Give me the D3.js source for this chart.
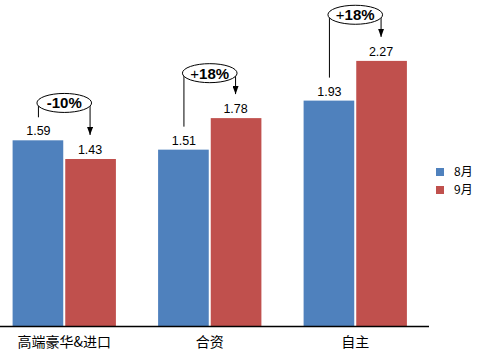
<!DOCTYPE html>
<html lang="zh">
<head>
  <meta charset="UTF-8">
  <title>8月 vs 9月</title>
  <style>
    body { margin: 0; background: #fff; }
    .chart { width: 481px; height: 361px; }
    text { font-family: "Liberation Sans", Arial, "Noto Sans CJK SC", sans-serif; }
    .cat { font-family: "Noto Sans CJK SC", "Liberation Sans", sans-serif; font-size: 14px; }
  </style>
  <script src="https://cdn.jsdelivr.net/npm/d3@7/dist/d3.min.js"></script>
</head>
<body>
  <div class="chart"></div>
  <script>
    var categories = ["高端豪华&进口", "合资", "自主"];
    var seriesNames = ["8月", "9月"];
    var aug = [1.59, 1.51, 1.93];
    var sep = [1.43, 1.78, 2.27];
    var changeLabels = ["-10%", "+18%", "+18%"];

    var colors = ["#4F81BD", "#C0504D"];
    // height of each callout bubble, in value units
    var calloutLevel = [1.91, 2.165, 2.665];

    var width = 481, height = 361;

    var svg = d3.select(".chart").append("svg")
        .attr("width", width)
        .attr("height", height);

    var x0 = d3.scaleBand()
        .domain(categories)
        .range([-8.5, 428])
        .paddingInner(0.29)
        .paddingOuter(0.145);

    var x1 = d3.scaleBand()
        .domain(seriesNames)
        .range([0, x0.bandwidth()]);

    var y = d3.scaleLinear()
        .domain([0, 2.8])
        .range([326, -1]);

    var rows = categories.map(function(c, i) {
      return { cat: c, values: [aug[i], sep[i]], change: changeLabels[i], level: calloutLevel[i] };
    });

    var group = svg.selectAll("g.grp")
        .data(rows)
      .enter().append("g")
        .attr("class", "grp")
        .attr("transform", function(d) { return "translate(" + x0(d.cat) + ",0)"; });

    group.selectAll("rect")
        .data(function(d) { return d.values.map(function(v, j) { return { s: seriesNames[j], v: v, j: j }; }); })
      .enter().append("rect")
        .attr("x", function(d) { return x1(d.s) + (d.j ? 1 : 0); })
        .attr("width", x1.bandwidth() - 1)
        .attr("y", function(d) { return y(d.v); })
        .attr("height", function(d) { return y(0) - y(d.v); })
        .attr("fill", function(d) { return colors[d.j]; });

    group.selectAll("text.val")
        .data(function(d) { return d.values.map(function(v, j) { return { s: seriesNames[j], v: v }; }); })
      .enter().append("text")
        .attr("class", "val")
        .attr("x", function(d) { return x1(d.s) + x1.bandwidth() / 2; })
        .attr("y", function(d) { return y(d.v) - 5; })
        .attr("text-anchor", "middle")
        .attr("font-size", 12.5)
        .text(function(d) { return d.v.toFixed(2); });

    // callouts
    var defs = svg.append("defs");
    defs.append("marker")
        .attr("id", "arrow")
        .attr("viewBox", "0 0 8 6")
        .attr("refX", 8).attr("refY", 3)
        .attr("markerWidth", 8).attr("markerHeight", 6)
        .attr("markerUnits", "userSpaceOnUse")
        .attr("orient", "auto")
      .append("path")
        .attr("d", "M0,0L8,3L0,6Z")
        .attr("fill", "#000");

    group.each(function(d) {
      var g = d3.select(this);
      var cy = y(d.level);
      var xa = x1(seriesNames[0]) + x1.bandwidth() / 2;
      var xb = x1(seriesNames[1]) + x1.bandwidth() / 2;
      var cx = (xa + xb) / 2;

      g.append("line")
          .attr("x1", xa).attr("x2", xa)
          .attr("y1", cy).attr("y2", y(d.values[0]) - 23)
          .attr("stroke", "#000");
      g.append("line")
          .attr("x1", xb).attr("x2", xb)
          .attr("y1", cy).attr("y2", y(d.values[1]) - 24)
          .attr("stroke", "#000")
          .attr("marker-end", "url(#arrow)");
      g.append("ellipse")
          .attr("cx", cx).attr("cy", cy)
          .attr("rx", (xb - xa) / 2 + 1.5).attr("ry", 9.5)
          .attr("fill", "#fff")
          .attr("stroke", "#000");
      var t = g.append("text")
          .attr("x", cx).attr("y", cy + 5.5)
          .attr("text-anchor", "middle")
          .attr("font-size", 15)
          .attr("font-weight", "bold");
      var sign = d.change.charAt(0);
      t.append("tspan").attr("font-weight", sign === "+" ? "normal" : "bold").text(sign);
      t.append("tspan").text(d.change.slice(1));
    });

    // axis line and category labels
    svg.append("line")
        .attr("x1", 0).attr("x2", 429)
        .attr("y1", y(0) + 0.5).attr("y2", y(0) + 0.5)
        .attr("stroke", "#000")
        .attr("stroke-width", 1.5);

    svg.selectAll("text.cat")
        .data(categories)
      .enter().append("text")
        .attr("class", "cat")
        .attr("x", function(d) { return x0(d) + x0.bandwidth() / 2; })
        .attr("y", 347)
        .attr("text-anchor", "middle")
        .text(function(d) { return d; });

    // legend
    var legend = svg.selectAll("g.leg")
        .data(seriesNames)
      .enter().append("g")
        .attr("class", "leg")
        .attr("transform", function(d, i) { return "translate(436," + (168 + i * 18) + ")"; });
    legend.append("rect")
        .attr("width", 8).attr("height", 8)
        .attr("fill", function(d, i) { return colors[i]; });
    legend.append("text")
        .attr("class", "cat")
        .attr("x", 18).attr("y", 8)
        .style("font-size", "12px")
        .text(function(d) { return d; });
  </script>
</body>
</html>
